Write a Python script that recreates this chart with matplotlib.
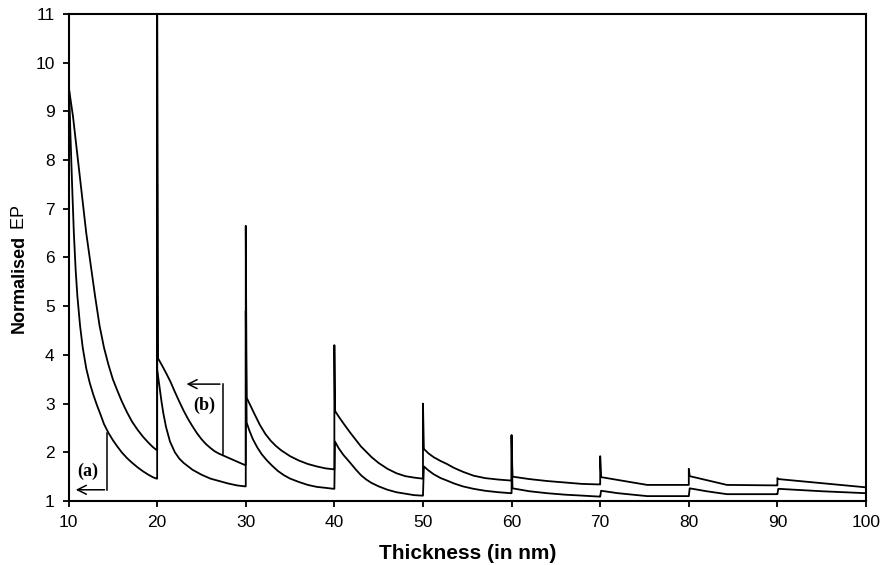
import numpy as np
import matplotlib
matplotlib.use('Agg')
import matplotlib.pyplot as plt

# curve (a) - lower curve (vertical spikes at every 10 nm)
x_a = [10, 10.2, 10.4, 10.6, 10.8, 11.0, 11.3, 11.6, 12, 12.4, 12.8, 13.2, 13.6, 14.0,
       14.5, 15, 15.5, 16, 16.6, 17.2, 17.8, 18.4, 19, 19.5, 19.9,
       20, 20, 20, 20.15, 20.3, 20.5, 20.7, 21, 21.45, 22, 22.5, 23, 24, 25, 26, 27,
       28, 29, 29.9,
       30, 30, 30.1, 30.4, 30.8, 31.3, 31.8, 32.4, 33, 33.6, 34.3, 35, 36, 37, 38, 39, 39.9,
       40, 40.07, 40.5, 41, 41.76, 42.4, 43, 43.6, 44.2, 45, 46, 47, 48, 49, 49.9,
       50, 50.1, 50.6, 51.2, 52, 52.7, 53.5, 54.5, 55.7, 57, 58.5, 59.9,
       60, 60, 60.1, 62, 64, 66, 68, 69.9,
       70, 70.1, 72, 75.3, 79.9,
       80, 80.1, 82, 84.3, 89.9,
       90, 90.1, 95, 100]
y_a = [9.9, 8.6, 7.5, 6.5, 5.75, 5.2, 4.6, 4.15, 3.72, 3.42, 3.18, 2.97, 2.78, 2.58,
       2.40, 2.25, 2.12, 2.0, 1.88, 1.78, 1.69, 1.61, 1.54, 1.49, 1.46,
       1.46, 7.5, 3.7, 3.5, 3.3, 3.03, 2.8, 2.52, 2.22, 2.0, 1.87, 1.78, 1.64, 1.54, 1.46, 1.41,
       1.36, 1.32, 1.30,
       1.30, 4.9, 2.61, 2.45, 2.27, 2.1, 1.96, 1.83, 1.72, 1.62, 1.53, 1.46, 1.39, 1.33, 1.29, 1.27, 1.25,
       1.25, 2.22, 2.08, 1.95, 1.79, 1.65, 1.53, 1.44, 1.37, 1.3, 1.23, 1.18, 1.15, 1.12, 1.11,
       1.11, 1.71, 1.63, 1.55, 1.47, 1.42, 1.36, 1.3, 1.25, 1.21, 1.18, 1.16,
       1.16, 2.35, 1.26, 1.2, 1.16, 1.13, 1.11, 1.09,
       1.09, 1.21, 1.16, 1.10, 1.10,
       1.10, 1.26, 1.2, 1.14, 1.14,
       1.14, 1.25, 1.2, 1.16]

# curve (b) - upper curve
x_b = [10.1, 10.5, 11, 11.5, 12, 12.5, 13, 13.5, 14, 14.5, 15, 15.5, 16, 16.6, 17.2,
       17.8, 18.4, 19, 19.5, 19.9,
       20, 20, 20.1, 20.5, 21, 21.5, 22, 22.5, 23, 23.5, 24, 24.5, 25, 25.5, 26, 26.5,
       27, 27.5, 28, 28.5, 29, 29.5, 29.9,
       30, 30, 30.1, 30.5, 31, 31.6, 32.2, 32.8, 33.4, 34, 35, 36, 37, 38, 39, 39.9,
       40, 40, 40.07, 40.5, 41, 41.76, 42.4, 43, 43.6, 44.2, 45, 46, 47, 48, 49, 49.9,
       50, 50, 50.1, 50.6, 51.2, 52, 52.7, 53.5, 54.5, 55.7, 57, 58.5, 59.9,
       60, 60, 60.1, 62, 64, 66, 68, 69.9,
       70, 70, 70.1, 75.3, 79.9,
       80, 80, 80.1, 84.3, 89.9,
       90, 90, 90.1, 100]
y_b = [9.4, 8.9, 8.1, 7.3, 6.5, 5.85, 5.2, 4.6, 4.15, 3.8, 3.5, 3.27, 3.05, 2.82, 2.62,
       2.46, 2.32, 2.2, 2.11, 2.05,
       2.05, 11.5, 3.93, 3.8, 3.63, 3.45, 3.24, 3.04, 2.85, 2.68, 2.53, 2.39, 2.27, 2.17, 2.09, 2.02,
       1.97, 1.93, 1.89, 1.85, 1.81, 1.77, 1.74,
       1.74, 6.65, 3.12, 2.97, 2.78, 2.56, 2.38, 2.24, 2.13, 2.04, 1.92, 1.83, 1.76, 1.71, 1.67, 1.65,
       1.65, 4.2, 2.85, 2.73, 2.6, 2.41, 2.26, 2.12, 2.01, 1.9, 1.78, 1.66, 1.57, 1.51, 1.48, 1.46,
       1.46, 3.0, 2.07, 1.98, 1.9, 1.82, 1.76, 1.68, 1.6, 1.52, 1.47, 1.44, 1.42,
       1.42, 2.35, 1.5, 1.45, 1.41, 1.38, 1.35, 1.34,
       1.34, 1.92, 1.49, 1.33, 1.33,
       1.33, 1.66, 1.51, 1.33, 1.32,
       1.32, 1.47, 1.45, 1.28]

x_ticks = [10, 20, 30, 40, 50, 60, 70, 80, 90, 100]
y_ticks = [1, 2, 3, 4, 5, 6, 7, 8, 9, 10, 11]

plt.rcParams['font.family'] = ['Liberation Sans', 'DejaVu Sans']

fig = plt.figure(figsize=(8.81, 5.65), dpi=100)
ax = fig.add_axes([0.0778, 0.1133, 0.9052, 0.8619])

ax.plot(x_a, y_a, color='black', lw=1.3)
ax.plot(x_b, y_b, color='black', lw=1.3)

ax.set_xlim(10, 100)
ax.set_ylim(1, 11)
ax.set_xticks(x_ticks)
ax.set_yticks(y_ticks)
ax.tick_params(direction='out', length=4, width=1.3, labelsize=12.5, pad=6)
for s in ax.spines.values():
    s.set_linewidth(1.5)

ax.set_xlabel('Thickness (in nm)', fontsize=15, fontweight='bold', labelpad=10)
# y label: "Normalised" bold, "EP" regular
fig.text(0.022, 0.585, 'Normalised', rotation=90, fontsize=13, fontweight='bold',
         ha='center', va='top')
fig.text(0.022, 0.585, ' EP', rotation=90, fontsize=13, ha='center', va='bottom')

# annotations (a) and (b)
ax.plot([14.38, 14.38], [2.39, 1.23], color='black', lw=1.1)
ax.annotate('', xy=(10.5, 1.23), xytext=(14.38, 1.23),
            arrowprops=dict(arrowstyle='->', lw=1.1, color='black', mutation_scale=16))
ax.text(12.2, 1.6, '(a)', family='Liberation Serif', fontweight='bold', fontsize=13,
        ha='center', va='center')

ax.plot([27.4, 27.4], [1.97, 3.40], color='black', lw=1.1)
ax.annotate('', xy=(23.0, 3.40), xytext=(27.4, 3.40),
            arrowprops=dict(arrowstyle='->', lw=1.1, color='black', mutation_scale=16))
ax.text(25.3, 2.97, '(b)', family='Liberation Serif', fontweight='bold', fontsize=13,
        ha='center', va='center')

fig.savefig('out.png', dpi=100)
